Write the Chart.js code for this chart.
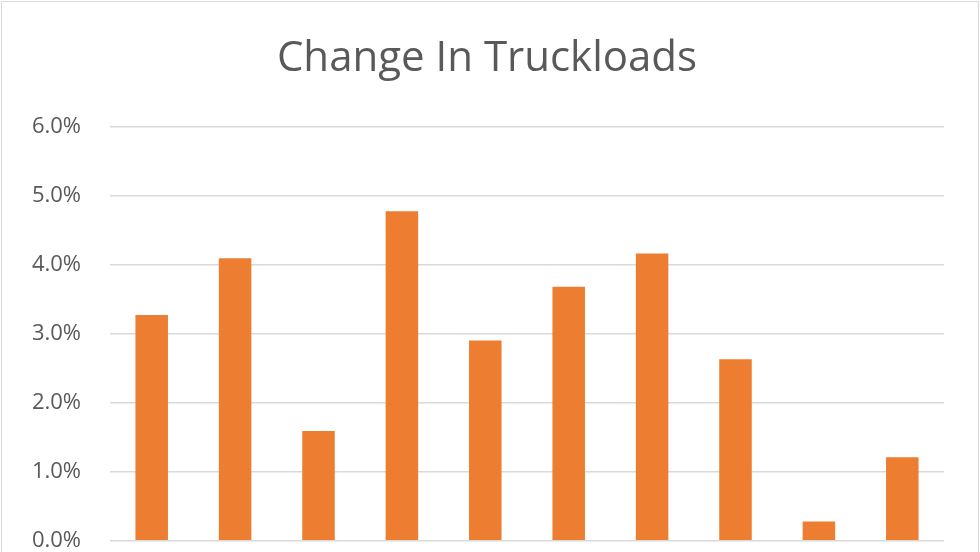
<html>
  <head>
    <title>Change In Truckloads</title>
    <script src="https://cdn.jsdelivr.net/npm/chart.js@4.4.0/dist/chart.umd.min.js"></script>
    <style>
      body { margin: 0; background: #ffffff; overflow: hidden; }
      #wrap { position: relative; width: 980px; height: 552px; overflow: hidden; }
      #frame { position: absolute; left: 1px; top: 1px; width: 976px; height: 560px; border: 1px solid #d9d9d9; }
    </style>
  </head>

  <body>
    <div id="wrap">
      <canvas id="bar-chart" width="980" height="583"></canvas>
      <div id="frame"></div>
    </div>
  </body>

  <script>
    // chart is cut off at the bottom like the source screenshot
    var months = ["1", "2", "3", "4", "5", "6", "7", "8", "9", "10"];
    var change = [3.27, 4.09, 1.59, 4.77, 2.90, 3.68, 4.16, 2.63, 0.28, 1.21];
    var tickValues = [0, 1, 2, 3, 4, 5, 6];

    var grey = "#595959";

    new Chart(document.getElementById("bar-chart"), {
      type: 'bar',
      data: {
        labels: months,
        datasets: [{
          label: "Change In Truckloads",
          backgroundColor: "#ed7d31",
          data: change,
          categoryPercentage: 1,
          barPercentage: 0.39
        }]
      },
      options: {
        responsive: false,
        animation: false,
        layout: { padding: { left: 30, right: 36, top: 0, bottom: 0 } },
        plugins: {
          legend: { display: false },
          tooltip: { enabled: false },
          title: {
            display: true,
            text: 'Change In Truckloads',
            color: grey,
            font: { family: "Open Sans", size: 42, weight: 'normal' },
            padding: { top: 34, bottom: 42 }
          }
        },
        scales: {
          x: { display: false },
          y: {
            min: 0,
            max: 6,
            afterBuildTicks: function(axis) {
              axis.ticks = tickValues.map(function(v) { return { value: v }; });
            },
            afterFit: function(axis) { axis.width = 80; },
            border: { display: false },
            grid: { color: "#d9d9d9", lineWidth: 1.5, drawTicks: false },
            ticks: {
              color: grey,
              padding: 29,
              font: { family: "Open Sans", size: 22 },
              callback: function(v) { return v.toFixed(1) + "%"; }
            }
          }
        }
      }
    });
  </script>
</html>
